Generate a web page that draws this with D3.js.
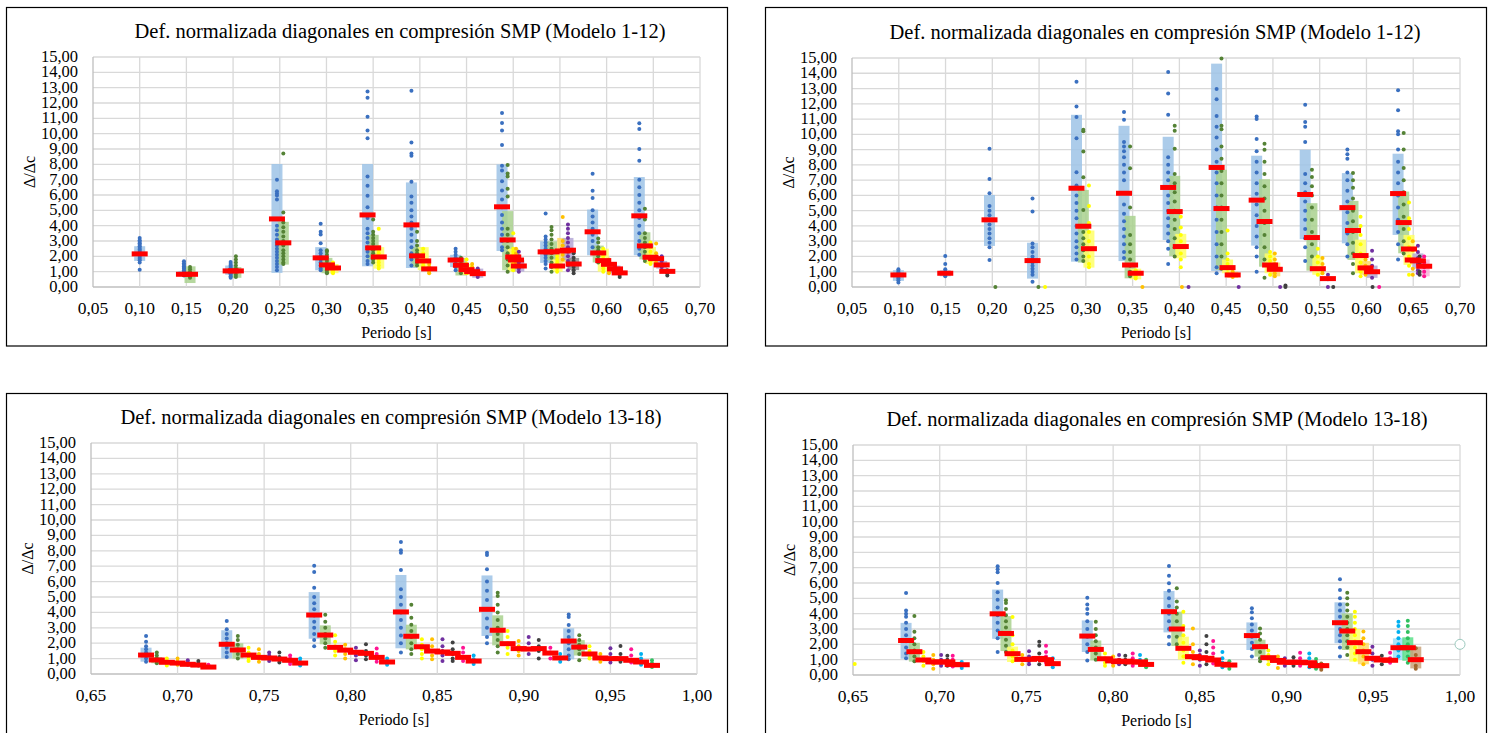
<!DOCTYPE html>
<html>
<head>
<meta charset="utf-8">
<script src="https://cdn.jsdelivr.net/npm/d3@7"></script>
<style>
  body { margin: 0; background: #fff; }
  svg { display: block; }
</style>
</head>
<body>
<svg id="chart" width="1494" height="733"></svg>
<script>
// Each row: [period, series, mean, bandLow, bandHigh, [points]]
const p1 = [
  [.100, "B", 2.16, 1.70, 2.66, [3.2, 3.05, 2.95, 2.85, 2.75, 2.65, 2.55, 2.45, 2.35, 2.25, 2.15, 2.05, 1.95, 1.85, 1.75, 1.6, 1.13]],
  [.1474, "B", .83, .75, 1.05, [1.68, 1.55, 1.45, 1.35, 1.25, 1.2, 1.1, 1.0, .95, .9, .85, .8, .75]],
  [.1539, "G", .83, .26, 1.35, [1.3, 1.15, 1.0, .9, .8, .7, .6]],
  [.1974, "B", 1.05, .8, 1.4, [1.63, 1.5, 1.4, 1.3, 1.2, 1.1, 1.0, .9, .8, .7, .61]],
  [.203, "G", 1.05, .6, 1.3, [2.0, 1.8, 1.6, 1.4, 1.2, 1.0, .8, .65]],
  [.247, "B", 4.44, .92, 8.02, [7.0, 6.25, 6.1, 5.97, 5.7, 4.0, 3.7, 3.4, 3.1, 2.9, 2.7, 2.5, 2.3, 2.1, 1.9, 1.7, 1.5, 1.3, 1.1]],
  [.2538, "G", 2.88, 1.46, 4.25, [8.7, 4.86, 4.2, 3.9, 3.6, 3.3, 3.0, 2.7, 2.4, 2.2, 2.0, 1.8, 1.6, 1.5]],
  [.2938, "B", 1.9, 1.09, 2.6, [4.12, 3.6, 3.42, 2.85, 2.4, 2.2, 2.0, 1.8, 1.6, 1.4, 1.2, 1.1]],
  [.3005, "G", 1.44, .9, 1.9, [2.4, 2.3, 2.1, 1.9, 1.7, 1.5, 1.3, 1.1, .95, .9]],
  [.307, "Y", 1.24, .9, 1.5, [1.6, 1.5, 1.4, 1.3, 1.2, 1.1, 1.0, .9]],
  [.344, "B", 4.7, 1.35, 8.02, [12.75, 12.35, 11.1, 10.2, 9.7, 7.2, 6.6, 5.95, 5.2, 4.5, 3.8, 3.5, 3.2, 2.9, 2.6, 2.3, 2.0, 1.7, 1.5]],
  [.350, "G", 2.55, 1.8, 3.4, [4.4, 3.6, 3.4, 3.2, 3.0, 2.8, 2.6, 2.4, 2.2, 2.0, 1.8, 1.6]],
  [.356, "Y", 1.96, 1.2, 2.6, [3.8, 2.6, 2.4, 2.2, 2.0, 1.8, 1.6, 1.4, 1.2]],
  [.391, "B", 4.05, 1.24, 6.82, [12.8, 9.43, 8.7, 8.56, 6.86, 5.9, 5.5, 5.0, 4.6, 4.2, 3.8, 3.4, 3.0, 2.6, 2.2, 1.8, 1.4]],
  [.397, "G", 2.03, 1.3, 2.6, [3.6, 3.0, 2.7, 2.4, 2.2, 2.0, 1.8, 1.6, 1.4]],
  [.4036, "Y", 1.7, 1.1, 2.6, [2.5, 2.2, 2.0, 1.8, 1.6, 1.4, 1.2]],
  [.410, "O", 1.18, null, null, [1.5, 1.3, 1.1, 1.0, .9]],
  [.4383, "B", 1.76, 1.3, 2.1, [2.5, 2.3, 2.1, 1.9, 1.7, 1.5, 1.3, 1.09]],
  [.444, "G", 1.42, .75, 1.9, [1.9, 1.7, 1.5, 1.3, 1.1, .9]],
  [.450, "Y", 1.13, .8, 1.5, [1.8, 1.5, 1.3, 1.1, .9]],
  [.456, "O", 1.0, null, null, [1.5, 1.3, 1.1, .9]],
  [.462, "P", .87, .6, 1.2, [1.2, 1.0, .9, .8, .65]],
  [.488, "B", 5.23, 2.35, 8.0, [11.35, 10.7, 10.2, 9.26, 7.9, 7.6, 6.9, 6.3, 5.7, 5.2, 4.7, 4.2, 3.8, 3.4, 3.0, 2.6, 2.4]],
  [.494, "G", 3.07, 1.09, 4.95, [7.95, 7.4, 7.2, 6.4, 5.9, 3.8, 3.4, 3.0, 2.6, 2.2, 1.8, 1.4, 1.0]],
  [.500, "Y", 1.96, 1.0, 2.5, [3.5, 2.5, 2.3, 2.1, 1.9, 1.7, 1.5, 1.3, 1.1]],
  [.503, "O", 1.76, null, null, [2.5, 2.2, 1.9, 1.6, 1.3]],
  [.506, "P", 1.37, 1.0, 1.75, [2.3, 2.0, 1.8, 1.6, 1.4, 1.2, 1.0]],
  [.5347, "B", 2.29, 1.57, 2.98, [4.8, 3.3, 3.1, 2.9, 2.7, 2.5, 2.3, 2.1, 1.9, 1.7, 1.5, 1.2]],
  [.541, "G", 2.29, 1.74, 2.98, [3.92, 3.7, 3.4, 3.1, 2.8, 2.5, 2.2, 1.9, 1.6, 1.3, 1.0]],
  [.547, "Y", 1.37, 1.0, 1.8, [2.0, 1.8, 1.6, 1.4, 1.2, 1.0]],
  [.553, "O", 2.35, 1.6, 3.2, [4.57, 3.0, 2.7, 2.4, 2.1, 1.8]],
  [.5586, "P", 2.4, 1.74, 3.2, [4.07, 3.8, 3.5, 3.2, 2.9, 2.6, 2.3, 2.0, 1.7, 1.4, 1.1]],
  [.5647, "K", 1.5, 1.1, 1.9, [2.2, 1.9, 1.7, 1.5, 1.3, 1.1, .9]],
  [.585, "B", 3.6, 2.07, 5.05, [7.39, 6.27, 5.8, 5.0, 4.6, 4.2, 3.8, 3.4, 3.0, 2.6, 2.2]],
  [.591, "G", 2.22, 1.6, 2.7, [3.16, 2.9, 2.6, 2.4, 2.2, 2.0, 1.8, 1.6]],
  [.5964, "Y", 1.72, 1.0, 2.5, [2.5, 2.2, 2.0, 1.8, 1.6, 1.4, 1.2, 1.0]],
  [.6025, "O", 1.48, null, null, [1.8, 1.6, 1.4, 1.2, 1.0, .9]],
  [.609, "P", 1.18, .9, 1.4, [1.5, 1.3, 1.1, .95]],
  [.614, "K", .92, null, null, [1.1, .95, .8, .65]],
  [.635, "B", 4.64, 2.07, 7.17, [10.68, 10.3, 9.0, 8.24, 7.0, 6.5, 6.0, 5.5, 5.0, 4.5, 4.0, 3.5, 3.0, 2.5, 2.1]],
  [.641, "G", 2.68, 1.8, 3.57, [5.1, 4.4, 3.5, 3.2, 2.9, 2.6, 2.3, 2.0, 1.7]],
  [.647, "Y", 1.94, 1.5, 2.6, [2.9, 2.6, 2.3, 2.0, 1.7, 1.5]],
  [.653, "O", 1.85, null, null, [2.83, 2.2, 1.9, 1.6]],
  [.659, "P", 1.44, 1.2, 1.7, [2.0, 1.7, 1.5, 1.3, 1.1]],
  [.665, "K", 1.02, null, null, [1.1, 1.0, .9, .75]]
];

const p2 = [
  [.0996, "B", .79, .4, 1.1, [1.16, 1.05, .95, .85, .75, .65, .55, .45, .3]],
  [.1497, "B", .9, .7, 1.1, [2.03, 1.5, 1.16, 1.0, .9, .8, .7]],
  [.197, "B", 4.4, 2.69, 6.03, [9.05, 7.08, 6.14, 5.3, 5.0, 4.7, 4.4, 4.1, 3.8, 3.5, 3.2, 2.9, 2.6, 1.77]],
  [.2033, "G", null, null, null, [0]],
  [.243, "B", 1.73, .55, 2.9, [5.8, 4.94, 2.85, 2.6, 2.3, 2.0, 1.8, 1.6, 1.4, 1.2, 1.0, .8, .35]],
  [.2493, "G", null, null, null, [0]],
  [.2564, "Y", null, null, null, [0]],
  [.290, "B", 6.47, 1.66, 11.28, [13.45, 11.83, 11.13, 9.75, 7.52, 6.65, 6.0, 5.5, 5.0, 4.5, 4.0, 3.5, 3.0, 2.6, 2.2, 1.8]],
  [.2973, "G", 3.98, 1.6, 6.36, [10.3, 10.2, 8.88, 7.19, 5.05, 4.0, 3.6, 3.2, 2.8, 2.4, 2.0, 1.7]],
  [.3033, "Y", 2.51, 1.27, 3.7, [6.65, 5.31, 4.2, 3.6, 3.0, 2.5, 2.0, 1.5, 1.3]],
  [.3408, "B", 6.14, 1.7, 10.56, [11.46, 10.96, 9.5, 9.2, 8.9, 8.5, 8.0, 7.5, 7.0, 5.4, 4.8, 4.3, 3.8, 3.3, 2.8, 2.3, 1.9]],
  [.3473, "G", 1.44, .57, 4.66, [9.2, 7.78, 5.2, 3.4, 2.8, 2.3, 1.8, 1.4, 1.0, .7]],
  [.3533, "Y", .9, .5, 1.2, [1.1, .9, .7, .55]],
  [.3605, "O", null, null, null, [0]],
  [.388, "B", 6.52, 3.08, 9.84, [14.08, 12.68, 11.28, 8.5, 8.0, 7.5, 7.0, 6.5, 6.0, 5.5, 5.0, 4.5, 4.0, 3.5, 3.0, 2.5, 1.5]],
  [.395, "G", 4.94, 2.03, 7.28, [10.56, 10.23, 9.05, 7.4, 6.8, 6.2, 5.6, 5.0, 4.4, 3.8, 3.2, 2.6, 2.0]],
  [.4015, "Y", 2.65, 1.88, 3.48, [4.6, 3.9, 3.4, 3.0, 2.6, 2.2, 1.8, 1.3]],
  [.4027, "O", null, null, null, [0]],
  [.4098, "P", null, null, null, [0]],
  [.4398, "B", 7.83, 1.05, 14.63, [12.97, 12.3, 11.2, 10.5, 9.8, 9.0, 8.2, 7.5, 6.8, 6.0, 5.2, 4.4, 3.6, 2.8, 2.0, 1.3, .9]],
  [.445, "G", 5.14, 1.12, 7.68, [14.96, 10.56, 10.34, 9.2, 8.4, 7.6, 6.8, 6.0, 5.2, 4.4, 3.6, 2.8, 2.0, 1.2]],
  [.4515, "Y", 1.27, .9, 1.8, [3.7, 2.2, 1.8, 1.5, 1.2, .9]],
  [.457, "O", .79, .6, 1.0, [1.0, .8, .65]],
  [.4634, "P", null, null, null, [0]],
  [.4826, "B", 5.69, 2.71, 8.6, [11.17, 11.0, 9.69, 8.9, 8.2, 7.5, 6.8, 6.1, 5.4, 4.7, 4.0, 3.3, 2.6, 2.0, 1.0]],
  [.491, "G", 4.29, 1.33, 7.06, [9.38, 8.99, 8.2, 7.4, 6.6, 5.8, 5.0, 4.2, 3.4, 2.6, 1.8, .6]],
  [.497, "Y", 1.44, .9, 2.2, [2.3, 2.0, 1.7, 1.4, 1.1, .8]],
  [.502, "O", 1.16, .7, 1.6, [2.2, 1.8, 1.5, 1.2, .9, .7]],
  [.5077, "P", null, null, null, [0]],
  [.5134, "K", null, null, null, [0, .1]],
  [.5345, "B", 6.06, 3.13, 8.99, [11.94, 10.8, 10.5, 9.5, 7.4, 6.8, 6.2, 5.6, 5.0, 4.4, 3.8, 3.2, 2.6, 1.7]],
  [.5417, "G", 3.24, 1.07, 5.49, [7.68, 7.2, 6.6, 6.0, 5.2, 4.4, 3.6, 2.8, 2.0, 1.2]],
  [.548, "Y", 1.2, .8, 2.0, [2.5, 2.0, 1.6, 1.2, .8]],
  [.553, "O", null, null, null, [1.9, 1.5, 1.1, .9]],
  [.5588, "P", .55, null, null, [.8, .5, 0]],
  [.5645, "K", null, null, null, [0]],
  [.5796, "B", 5.2, 2.86, 7.46, [9.0, 8.7, 8.4, 7.5, 7.0, 6.3, 5.6, 4.9, 4.2, 3.5, 2.8, 2.0]],
  [.5856, "G", 3.7, 1.77, 5.64, [7.46, 7.0, 6.5, 5.8, 5.0, 4.3, 3.6, 2.9, 2.2, 1.5, .9]],
  [.5937, "Y", 2.06, .9, 3.1, [4.6, 4.0, 3.4, 2.8, 2.2, 1.6, 1.0, .7]],
  [.599, "O", 1.25, .8, 1.7, [1.8, 1.4, 1.1, .8]],
  [.606, "P", 1.0, .6, 1.4, [2.38, 1.8, 1.4, 1.0, .6]],
  [.6065, "K", null, null, null, [0]],
  [.6136, "M", null, null, null, [0]],
  [.6338, "B", 6.12, 3.41, 8.73, [12.88, 11.57, 10.2, 10.0, 9.0, 8.2, 7.5, 6.8, 6.0, 5.2, 4.4, 3.6, 2.8, 1.8]],
  [.6398, "G", 4.22, 2.21, 6.25, [10.08, 9.0, 7.8, 7.0, 6.2, 5.4, 4.6, 3.8, 3.0, 2.2]],
  [.6455, "Y", 2.49, 1.45, 3.41, [5.53, 4.5, 3.8, 3.2, 2.6, 2.0, 1.4, .8]],
  [.6495, "O", 1.77, null, null, [3.0, 2.4, 1.8, 1.2, .8]],
  [.655, "P", 1.71, 1.2, 2.2, [2.7, 2.3, 1.9, 1.5, 1.1, .9]],
  [.6568, "K", null, null, null, [2.0, 1.5, 1.0, .8]],
  [.6617, "M", 1.36, .7, 1.8, [2.0, 1.6, 1.3, 1.0, .7]]
];

const p3 = [
  [.6818, "B", 1.23, .8, 1.71, [2.47, 2.1, 1.8, 1.6, 1.4, 1.2, 1.0, .8]],
  [.688, "G", .91, .7, 1.1, [1.4, 1.2, 1.0, .85, .7]],
  [.6938, "Y", .76, null, null, [1.0, .85, .7, .55]],
  [.700, "O", .71, null, null, [1.0, .8, .6]],
  [.7059, "P", .63, null, null, [.9, .75, .6]],
  [.712, "K", .58, null, null, [.85, .7, .55]],
  [.7178, "M", .45, null, null, [.6, .45]],
  [.7284, "B", 1.93, 1.02, 2.84, [3.44, 2.9, 2.6, 2.3, 2.0, 1.7, 1.4, 1.1]],
  [.7348, "G", 1.56, 1.0, 2.0, [2.47, 2.2, 1.9, 1.6, 1.3, 1.0]],
  [.741, "Y", 1.23, null, null, [1.7, 1.4, 1.2, 1.0, .85]],
  [.747, "O", 1.08, null, null, [1.6, 1.3, 1.0, .8]],
  [.7529, "P", 1.04, null, null, [1.4, 1.2, 1.0, .85]],
  [.7588, "K", .97, null, null, [1.4, 1.1, .9, .75]],
  [.765, "M", .89, null, null, [1.2, 1.0, .8, .65]],
  [.7708, "C", .71, null, null, [1.0, .8, .55]],
  [.7789, "B", 3.83, 2.29, 5.32, [7.03, 6.62, 5.6, 5.0, 4.6, 4.2, 3.8, 3.4, 3.0, 2.6, 2.2, 1.8]],
  [.7853, "G", 2.53, 1.93, 3.16, [3.85, 3.4, 3.0, 2.6, 2.3, 2.0, 1.7]],
  [.791, "Y", 1.73, null, null, [2.51, 2.1, 1.8, 1.5, 1.2]],
  [.7968, "O", 1.55, null, null, [1.9, 1.6, 1.3, 1.0]],
  [.803, "P", 1.41, null, null, [1.7, 1.4, 1.2, .9]],
  [.8088, "K", 1.34, null, null, [1.93, 1.5, 1.2, .95]],
  [.815, "M", 1.08, null, null, [1.65, 1.3, 1.0, .8]],
  [.821, "C", .78, null, null, [1.0, .8, .6]],
  [.829, "B", 4.03, 1.67, 6.43, [8.57, 8.03, 7.88, 6.75, 5.5, 5.0, 4.5, 4.0, 3.5, 3.0, 2.5, 2.0, 1.4]],
  [.835, "G", 2.45, 1.6, 3.2, [4.5, 3.66, 3.2, 2.8, 2.4, 2.0, 1.6, 1.3]],
  [.8411, "Y", 1.77, null, null, [2.25, 1.9, 1.6, 1.3, 1.0]],
  [.847, "O", 1.49, null, null, [2.25, 1.8, 1.5, 1.2, .95]],
  [.853, "P", 1.43, null, null, [2.25, 1.8, 1.5, 1.2, .85]],
  [.8589, "K", 1.34, null, null, [2.05, 1.6, 1.3, 1.0, .85]],
  [.8649, "M", 1.08, null, null, [1.7, 1.4, 1.1, .85]],
  [.871, "C", .84, null, null, [1.2, .95, .65]],
  [.8787, "B", 4.2, 2.47, 6.4, [7.88, 7.73, 6.8, 6.0, 5.4, 4.8, 4.2, 3.6, 3.0, 2.4, 2.0]],
  [.8849, "G", 2.84, 1.86, 3.81, [5.28, 5.06, 4.5, 4.0, 3.5, 3.0, 2.6, 2.2, 1.8, 1.4]],
  [.8906, "Y", 1.97, null, null, [2.79, 2.4, 2.0, 1.7, 1.3]],
  [.897, "O", 1.65, null, null, [2.15, 1.8, 1.5, 1.2]],
  [.9028, "P", 1.62, null, null, [2.4, 2.0, 1.6, 1.3]],
  [.9086, "K", 1.65, null, null, [2.2, 1.8, 1.5, 1.0]],
  [.9153, "M", 1.36, null, null, [1.7, 1.4, 1.0]],
  [.921, "C", 1.04, null, null, [1.3, 1.0, .8]],
  [.9259, "B", 2.14, .95, 2.97, [3.87, 3.7, 3.18, 2.8, 2.4, 2.0, 1.6, 1.2, .95]],
  [.932, "G", 1.75, 1.2, 2.2, [2.51, 2.2, 1.9, 1.6, 1.3, .9]],
  [.9379, "Y", 1.3, null, null, [1.8, 1.5, 1.2, 1.0]],
  [.9442, "O", 1.04, null, null, [1.3, 1.0, .8]],
  [.950, "P", 1.0, null, null, [1.67, 1.3, 1.0, .75]],
  [.9558, "K", 1.0, null, null, [1.82, 1.3, 1.0, .8]],
  [.962, "M", .89, null, null, [1.6, 1.2, .9, .75]],
  [.9677, "C", .78, null, null, [1.3, 1.0, .6]],
  [.974, "L", .56, null, null, [.9, .7, .45]]
];

const p4 = [
  [.651, "Y", null, null, null, [.72]],
  [.6806, "B", 2.25, 1.06, 3.4, [5.35, 4.2, 4.0, 3.8, 3.4, 3.0, 2.6, 2.2, 1.8, 1.4, 1.1]],
  [.6854, "G", 1.52, .87, 2.1, [3.84, 2.82, 2.4, 2.0, 1.6, 1.2, .9]],
  [.6906, "Y", .98, null, null, [1.5, 1.2, .9, .6]],
  [.6963, "O", .85, null, null, [1.3, 1.0, .7, .4]],
  [.7008, "P", .85, null, null, [1.3, 1.0, .8, .6]],
  [.7044, "K", .85, null, null, [1.25, 1.0, .8, .6]],
  [.7075, "M", .69, null, null, [1.25, 1.0, .8, .55]],
  [.7127, "C", .67, null, null, [.85, .6, .45]],
  [.7334, "B", 3.99, 2.36, 5.57, [7.09, 6.9, 6.7, 6.0, 5.4, 4.9, 4.4, 3.9, 3.4, 2.9, 2.4, 1.5]],
  [.7382, "G", 2.71, 1.56, 3.84, [4.88, 4.7, 4.3, 3.9, 3.5, 3.1, 2.7, 2.3, 1.9, 1.5]],
  [.742, "Y", 1.39, .85, 1.85, [3.79, 2.6, 2.0, 1.6, 1.2, .9]],
  [.7476, "O", 1.02, null, null, [1.3, 1.0, .7]],
  [.7515, "P", 1.02, null, null, [1.55, 1.2, .9, .7]],
  [.7574, "K", 1.08, null, null, [2.17, 1.9, 1.4, 1.0, .7]],
  [.7613, "M", 1.0, null, null, [1.9, 1.5, 1.2, .8]],
  [.7652, "C", .74, null, null, [1.1, .8, .5]],
  [.7851, "B", 2.54, 1.5, 3.56, [5.03, 4.6, 4.3, 4.0, 3.5, 3.0, 2.5, 2.0, 1.5, .95]],
  [.790, "G", 1.67, .95, 2.25, [3.47, 3.0, 2.6, 2.2, 1.8, 1.4, 1.0]],
  [.7953, "Y", 1.06, null, null, [1.4, 1.1, .8, .6]],
  [.800, "O", .92, null, null, [1.2, .9, .6]],
  [.8034, "P", .87, null, null, [1.3, 1.0, .7]],
  [.807, "K", .9, null, null, [1.25, 1.0, .7]],
  [.8113, "M", .85, null, null, [1.4, 1.1, .8, .6]],
  [.8155, "C", .85, null, null, [1.3, 1.0, .7]],
  [.819, "L", .69, null, null, [1.0, .8, .5]],
  [.8322, "B", 4.13, 2.78, 5.48, [7.11, 6.48, 5.98, 5.5, 5.0, 4.5, 4.0, 3.5, 3.0, 2.5, 2.0]],
  [.8367, "G", 3.0, 1.89, 4.13, [5.65, 4.8, 4.4, 4.0, 3.5, 3.0, 2.5, 2.0]],
  [.8405, "Y", 1.74, 1.0, 2.5, [4.13, 3.2, 2.6, 2.1, 1.6, 1.2, .8]],
  [.846, "O", 1.2, null, null, [3.04, 2.0, 1.5, 1.1, .7]],
  [.850, "P", 1.13, null, null, [1.6, 1.3, 1.0, .6]],
  [.8538, "K", 1.09, null, null, [2.54, 2.0, 1.5, 1.1, .7]],
  [.8577, "M", .98, null, null, [2.22, 1.8, 1.4, 1.0, .75]],
  [.863, "C", .7, null, null, [1.5, 1.1, .8, .5]],
  [.867, "L", .65, null, null, [.9, .65, .4]],
  [.880, "B", 2.57, 1.63, 3.43, [4.35, 4.1, 3.7, 3.3, 2.9, 2.5, 2.1, 1.7, 1.2]],
  [.8847, "G", 1.85, 1.2, 2.3, [3.04, 2.7, 2.3, 1.9, 1.5, 1.1, .9]],
  [.8895, "Y", 1.13, null, null, [1.6, 1.3, 1.0, .7]],
  [.895, "O", .95, null, null, [1.2, .9, .45]],
  [.899, "P", .83, null, null, [1.1, .9, .6]],
  [.904, "K", .83, null, null, [1.15, .9, .6]],
  [.9078, "M", .83, null, null, [1.45, 1.1, .8, .6]],
  [.9131, "C", .8, null, null, [1.4, 1.1, .8, .5]],
  [.917, "L", .61, null, null, [1.05, .8, .4]],
  [.920, "N", .61, null, null, [.75, .5, .35]],
  [.9308, "B", 3.41, 2.07, 4.74, [6.24, 5.54, 5.0, 4.6, 4.2, 3.8, 3.4, 3.0, 2.6, 2.2, 1.8, 1.2]],
  [.935, "G", 2.87, 1.63, 4.02, [5.37, 5.0, 4.6, 4.2, 3.8, 3.4, 3.0, 2.6, 2.2, 1.8, 1.3]],
  [.9394, "Y", 2.11, .87, 3.0, [4.13, 3.8, 3.4, 3.0, 2.6, 2.2, 1.8, 1.4, 1.0]],
  [.9443, "O", 1.52, .7, 2.1, [2.83, 2.4, 2.0, 1.6, 1.2, .7]],
  [.9495, "P", 1.09, null, null, [1.85, 1.4, 1.0, .6]],
  [.9549, "K", .98, null, null, [1.25, 1.0, .7]],
  [.9597, "M", .96, null, null, [1.45, 1.1, .8]],
  [.9645, "C", 1.78, .98, 2.39, [3.48, 3.2, 2.8, 2.4, 2.0, 1.6, 1.2]],
  [.9699, "L", 1.78, .93, 2.46, [3.54, 3.2, 2.8, 2.4, 2.0, 1.6, 1.2, .8]],
  [.9745, "N", 1.0, .43, 1.85, [1.74, 1.3, 1.0, .6, .4]]
];

// lone hollow marker at the right edge of the last panel
const p4Marker = [1.00, 2.0];

const titles = [
  "Def. normalizada diagonales en compresión SMP (Modelo 1-12)",
  "Def. normalizada diagonales en compresión SMP (Modelo 1-12)",
  "Def. normalizada diagonales en compresión SMP (Modelo 13-18)",
  "Def. normalizada diagonales en compresión SMP (Modelo 13-18)"
];
const xTicksA = [0.05, 0.10, 0.15, 0.20, 0.25, 0.30, 0.35, 0.40, 0.45, 0.50, 0.55, 0.60, 0.65, 0.70];
const xTicksB = [0.65, 0.70, 0.75, 0.80, 0.85, 0.90, 0.95, 1.00];
const yTicks = d3.range(0, 16);

const colors = {
  B: { dot: "#3A70C0", band: "#9DC3E6" },
  G: { dot: "#548235", band: "#A9D18E" },
  Y: { dot: "#FFFF00", band: "#FFFF66" },
  O: { dot: "#FFC000", band: "#FFD966" },
  P: { dot: "#7030A0", band: "#B4A7D6" },
  K: { dot: "#404040", band: "#8C8C8C" },
  M: { dot: "#FF1493", band: "#F6B3D6" },
  C: { dot: "#00B0F0", band: "#9BE1F8" },
  L: { dot: "#30C060", band: "#5CE08A" },
  N: { dot: "#A0682E", band: "#C9A27A" }
};

const svg = d3.select("#chart");
const fmt = v => v.toFixed(2).replace(".", ",");
const SERIF = "Times New Roman, Times, Liberation Serif, DejaVu Serif, FreeSerif, serif";

const layout = [
  { data: p1, title: titles[0], frame: [6.5, 7.5, 721, 338.5], plot: [93, 57, 700, 287], dom: [0.05, 0.70], ticks: xTicksA, tx: 400 },
  { data: p2, title: titles[1], frame: [765.5, 7.5, 721, 338.5], plot: [852, 58, 1460, 287], dom: [0.05, 0.70], ticks: xTicksA, tx: 1155 },
  { data: p3, title: titles[2], frame: [6.5, 393.5, 721, 360], plot: [91, 443, 697, 674], dom: [0.65, 1.00], ticks: xTicksB, tx: 391 },
  { data: p4, title: titles[3], frame: [765.5, 393.5, 721, 360], plot: [853, 445, 1460, 675], dom: [0.65, 1.00], ticks: xTicksB, tx: 1157 }
];

layout.forEach((L, i) => {
  const [l, t, r, b] = L.plot;
  const g = svg.append("g").style("font-family", SERIF);

  g.append("rect")
    .attr("x", L.frame[0]).attr("y", L.frame[1])
    .attr("width", L.frame[2]).attr("height", L.frame[3])
    .attr("fill", "#fff").attr("stroke", "#000").attr("stroke-width", 1.2);

  const x = d3.scaleLinear().domain(L.dom).range([l, r]);
  const y = d3.scaleLinear().domain([0, 15]).range([b, t]);

  // grid
  g.selectAll("line.hg").data(yTicks).enter().append("line")
    .attr("x1", l).attr("x2", r)
    .attr("y1", d => y(d)).attr("y2", d => y(d))
    .attr("stroke", d => d === 0 ? "#BFBFBF" : "#D9D9D9").attr("stroke-width", 1.3);
  g.selectAll("line.vg").data(L.ticks).enter().append("line")
    .attr("x1", d => x(d)).attr("x2", d => x(d))
    .attr("y1", t).attr("y2", b)
    .attr("stroke", (d, k) => k === 0 ? "#BFBFBF" : "#D9D9D9").attr("stroke-width", 1.3);

  // tick labels
  g.selectAll("text.yt").data(yTicks).enter().append("text")
    .attr("x", l - 15).attr("y", d => y(d) + 5)
    .attr("text-anchor", "end").attr("font-size", 16.5)
    .text(d => fmt(d));
  g.selectAll("text.xt").data(L.ticks).enter().append("text")
    .attr("x", d => x(d)).attr("y", b + 27)
    .attr("text-anchor", "middle").attr("font-size", 17.5)
    .text(d => fmt(d));

  // titles
  g.append("text").attr("x", L.tx).attr("y", t - 19)
    .attr("text-anchor", "middle").attr("font-size", 20.5)
    .text(L.title);
  g.append("text").attr("x", (l + r) / 2).attr("y", b + 51)
    .attr("text-anchor", "middle").attr("font-size", 16)
    .text("Periodo [s]");
  g.append("text")
    .attr("transform", `translate(${l - 58},${(t + b) / 2}) rotate(-90)`)
    .attr("text-anchor", "middle").attr("font-size", 16)
    .text("Δ/Δc");

  // bands
  g.selectAll("rect.band").data(L.data.filter(d => d[3] != null)).enter().append("rect")
    .attr("x", d => x(d[0]) - 5.5).attr("width", 11)
    .attr("y", d => y(d[4])).attr("height", d => y(d[3]) - y(d[4]))
    .attr("fill", d => colors[d[1]].band).attr("opacity", 0.85);

  // points
  const pts = [];
  L.data.forEach(d => d[5].forEach(v => pts.push({ x: d[0], v: v, c: d[1] })));
  g.selectAll("circle.pt").data(pts).enter().append("circle")
    .attr("cx", d => x(d.x)).attr("cy", d => y(d.v)).attr("r", 2)
    .attr("fill", d => colors[d.c].dot);

  // mean bars
  g.selectAll("rect.mean").data(L.data.filter(d => d[2] != null)).enter().append("rect")
    .attr("x", d => x(d[0]) - 8).attr("width", 16)
    .attr("y", d => y(d[2]) - 2.5).attr("height", 5)
    .attr("fill", "#FF0000");

  if (i === 3) {
    g.append("circle")
      .attr("cx", x(p4Marker[0])).attr("cy", y(p4Marker[1])).attr("r", 5)
      .attr("fill", "#fff").attr("stroke", "#9CC9BE").attr("stroke-width", 1);
  }
});
</script>
</body>
</html>
